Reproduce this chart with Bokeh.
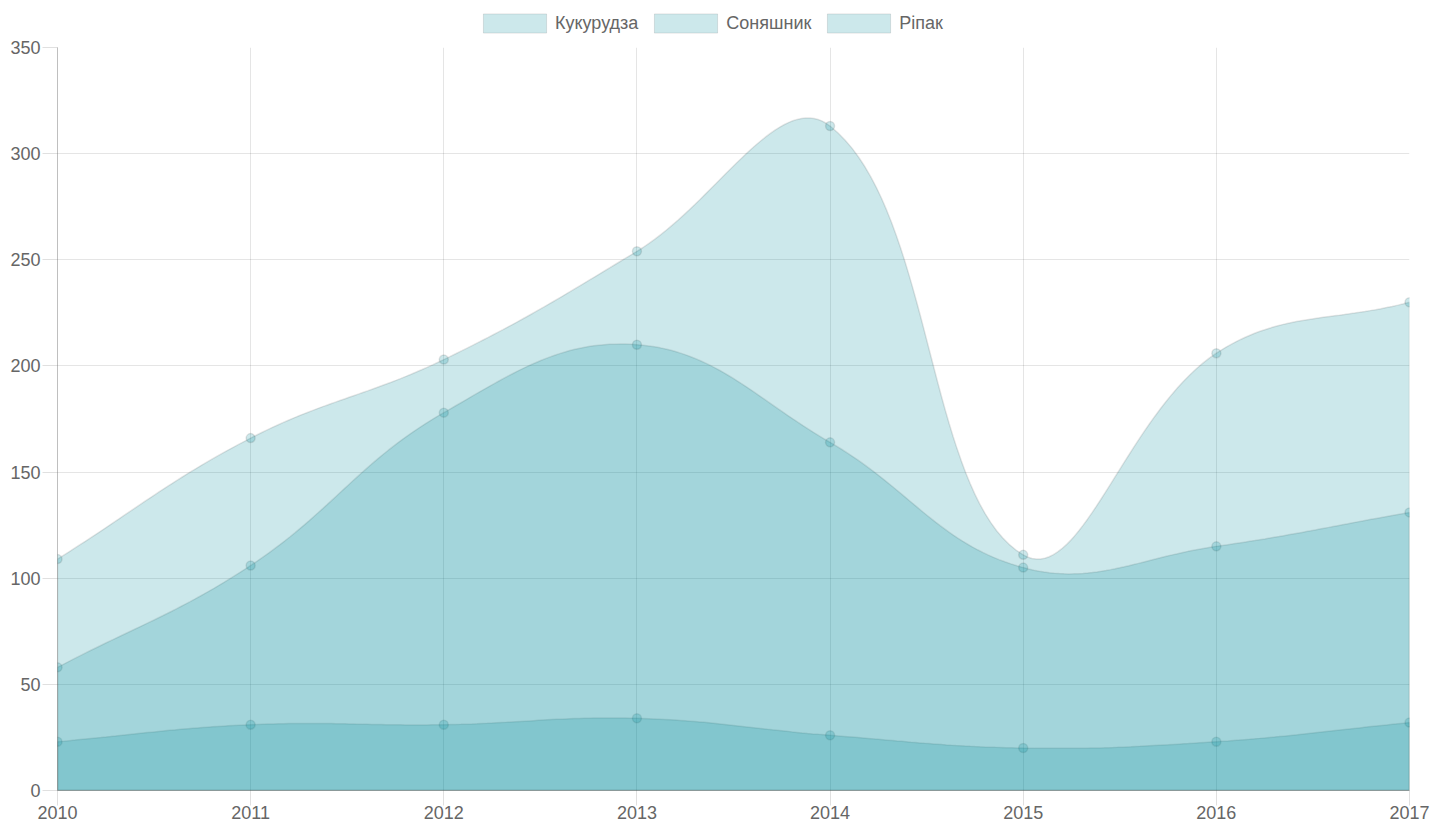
import numpy as np
from bokeh.plotting import figure
from bokeh.layouts import column
from bokeh.models import Range1d, FixedTicker, Legend, LegendItem
from bokeh.embed import file_html
from bokeh.resources import INLINE

# ---- data ----
years = [2010, 2011, 2012, 2013, 2014, 2015, 2016, 2017]
series_names = ["Кукурудза", "Соняшник", "Ріпак"]
corn = [109, 166, 203, 254, 313, 111, 206, 230]
sunflower = [58, 106, 178, 210, 164, 105, 115, 131]
rapeseed = [23, 31, 31, 34, 26, 20, 23, 32]
y_ticks = [0, 50, 100, 150, 200, 250, 300, 350]

# ---- layout ----
W = 1432
LEG_H = 37
H = 825 - LEG_H
ML, MR, MT, MB = 57, 23, 10, 35
FW = W - ML - MR
FH = H - MT - MB
X0, X1 = years[0], years[-1]
Y0, Y1 = 0, 350

FILL = (0, 140, 155)
FONT = "Liberation Sans"
TXT = "#666666"


def smooth(xs, ys, tension=0.4, n=40):
    """Chart.js style bezier spline through the points (computed in pixel space)."""
    kx = FW / (X1 - X0)
    ky = FH / (Y1 - Y0)
    px = [(x - X0) * kx for x in xs]
    py = [y * ky for y in ys]
    m = len(px)
    ctrl = []
    for i in range(m):
        pv = i - 1 if i > 0 else i
        nx = i + 1 if i < m - 1 else i
        d01 = np.hypot(px[i] - px[pv], py[i] - py[pv])
        d12 = np.hypot(px[nx] - px[i], py[nx] - py[i])
        s = d01 + d12
        s01 = d01 / s if s else 0
        s12 = d12 / s if s else 0
        fa, fb = tension * s01, tension * s12
        dx, dy = px[nx] - px[pv], py[nx] - py[pv]
        prev = (px[i] - fa * dx, py[i] - fa * dy)
        nxt = (px[i] + fb * dx, py[i] + fb * dy)
        clamp = lambda q: (min(max(q[0], 0), FW), min(max(q[1], 0), FH))
        ctrl.append((clamp(prev), clamp(nxt)))
    outx, outy = [], []
    t = np.linspace(0, 1, n)
    for i in range(m - 1):
        p0 = np.array([px[i], py[i]])
        p1 = np.array(ctrl[i][1])
        p2 = np.array(ctrl[i + 1][0])
        p3 = np.array([px[i + 1], py[i + 1]])
        tt = t if i == 0 else t[1:]
        for u in tt:
            b = ((1 - u) ** 3) * p0 + 3 * ((1 - u) ** 2) * u * p1 + 3 * (1 - u) * u * u * p2 + (u ** 3) * p3
            outx.append(X0 + b[0] / kx)
            outy.append(b[1] / ky)
    return outx, outy


# ---- main chart ----
p = figure(width=W, height=H, x_range=Range1d(X0, X1), y_range=Range1d(Y0, Y1),
           output_backend="svg", toolbar_location=None,
           min_border_left=ML, min_border_right=MR, min_border_top=MT, min_border_bottom=MB)
p.outline_line_color = None
p.background_fill_color = "white"
p.border_fill_color = "white"

for ax in (p.xaxis, p.yaxis):
    ax.major_label_text_font = FONT
    ax.major_label_text_font_size = "18px"
    ax.major_label_text_color = TXT
    ax.axis_line_color = "black"
    ax.axis_line_alpha = 0.25
    ax.major_tick_line_color = "black"
    ax.major_tick_line_alpha = 0.12
    ax.major_tick_in = 0
    ax.minor_tick_line_color = None

p.xaxis.ticker = FixedTicker(ticks=years)
p.xaxis.major_tick_out = 15
p.xaxis.major_label_standoff = 0
p.yaxis.ticker = FixedTicker(ticks=y_ticks)
p.yaxis.major_tick_out = 15
p.yaxis.major_label_standoff = 2

p.xgrid.ticker = FixedTicker(ticks=years)
p.ygrid.ticker = FixedTicker(ticks=y_ticks)
for g in (p.xgrid, p.ygrid):
    g.grid_line_color = "black"
    g.grid_line_alpha = 0.1

# ---- legend strip (Chart.js style legend above the chart) ----
leg = figure(width=W, height=LEG_H, x_range=Range1d(0, 1), y_range=Range1d(0, 1),
             output_backend="svg", toolbar_location=None,
             min_border_left=0, min_border_right=0, min_border_top=0, min_border_bottom=0)
leg.axis.visible = False
leg.grid.visible = False
leg.outline_line_color = None

series = [corn, sunflower, rapeseed]
leg_renderers = {}
# Chart.js draws the last dataset first
for name, vals in reversed(list(zip(series_names, series))):
    sx, sy = smooth(years, vals)
    xs = [sx[0]] + sx + [sx[-1]]
    ys = [0] + sy + [0]
    p.patch(xs, ys, fill_color=FILL, fill_alpha=0.2,
            line_color="black", line_alpha=0.1, line_width=1.5)
    p.scatter(years, vals, size=9, fill_color=FILL, fill_alpha=0.2,
              line_color="black", line_alpha=0.1, line_width=1.5)
    leg_renderers[name] = leg.patch(xs, ys, fill_color=FILL, fill_alpha=0.2,
                                    line_color="black", line_alpha=0.1, line_width=1,
                                    visible=False)

items = [LegendItem(label=name, renderers=[leg_renderers[name]]) for name in series_names]
legend = Legend(items=items, orientation="horizontal", location=(418, 2),
                glyph_width=79, glyph_height=24, label_standoff=1, spacing=8,
                padding=0, margin=0, background_fill_alpha=0, border_line_alpha=0,
                inactive_fill_alpha=0,
                label_text_font=FONT, label_text_font_size="18px", label_text_color=TXT)
leg.add_layout(legend, "center")

open("out.html", "w").write(file_html(column(leg, p, spacing=0), INLINE))
